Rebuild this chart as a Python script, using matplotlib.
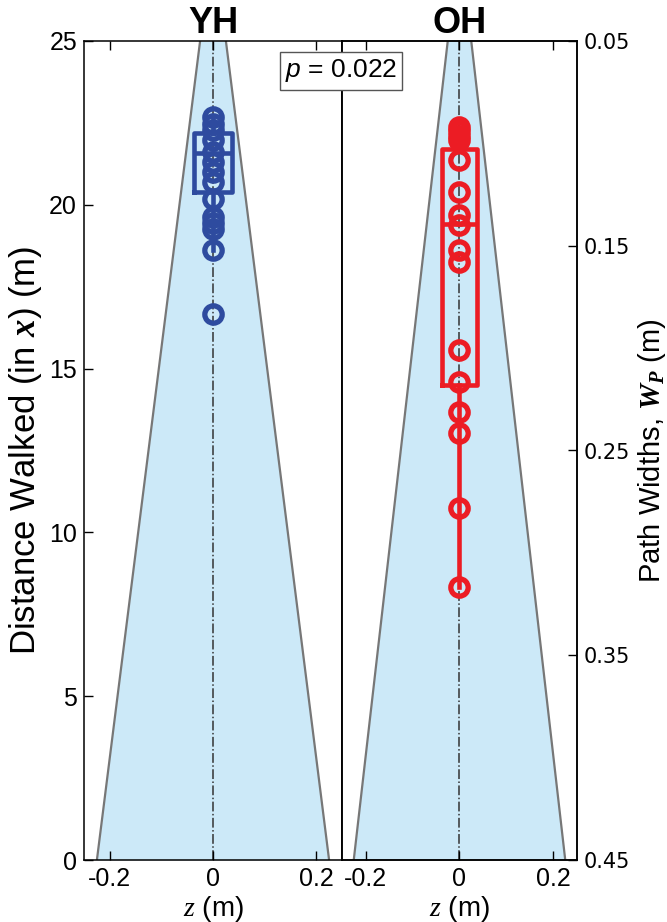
import numpy as np
import matplotlib
matplotlib.use("Agg")
import matplotlib.pyplot as plt

plt.rcParams["font.family"] = ["Liberation Sans", "DejaVu Sans"]
plt.rcParams["mathtext.fontset"] = "custom"
plt.rcParams["mathtext.it"] = "Liberation Serif:italic"
plt.rcParams["mathtext.bf"] = "Liberation Serif:italic:bold"
plt.rcParams["mathtext.sf"] = "Liberation Sans:italic"
plt.rcParams["mathtext.rm"] = "Liberation Sans"

# path geometry: distance along path vs path width
path_dist = [0, 25]
path_width = [0.45, 0.05]

groups = ["YH", "OH"]
p_value = 0.022

# distance walked before stepping off (m)
yh_dist = [22.68, 22.47, 22.28, 21.98, 21.6, 21.3, 21.0, 20.7, 20.18,
           19.63, 19.45, 19.26, 18.62, 16.67]
oh_dist = [22.37, 22.25, 22.1, 21.97, 21.37, 20.39, 19.69, 19.38, 18.62,
           18.25, 15.57, 14.59, 13.68, 13.03, 10.74, 8.33]

# box stats (q1, median, q3, whisker low, whisker high)
yh_box = dict(q1=20.4, med=21.58, q3=22.2, whislo=18.62, whishi=22.68)
oh_box = dict(q1=14.5, med=19.41, q3=21.7, whislo=8.33, whishi=22.37)

colors = ["#2e4b9f", "#ec1c24"]
fill_color = "#cce9f8"

W, H = 667, 922
fig = plt.figure(figsize=(W / 100, H / 100), dpi=100)
bottom = 1 - 860 / H
height = (860 - 41) / H
ax1 = fig.add_axes([84 / W, bottom, (342 - 84) / W, height])
ax2 = fig.add_axes([342 / W, bottom, (577 - 342) / W, height])
tw = ax2.twinx()

d = np.array(path_dist)
half = np.array(path_width) / 2

for ax, name, vals, box, col in zip(
    [ax1, ax2], groups, [yh_dist, oh_dist], [yh_box, oh_box], colors
):
    ax.fill_betweenx(d, -half, half, color=fill_color, lw=0, zorder=0)
    ax.plot(-half, d, color="#777777", lw=1.6, zorder=1)
    ax.plot(half, d, color="#777777", lw=1.6, zorder=1)
    ax.plot([0, 0], [0, 25], color="#333333", lw=1.1, ls="-.", zorder=1)

    st = dict(box, fliers=[])
    ax.bxp([st], positions=[0], widths=0.075, showcaps=False,
           showfliers=False, patch_artist=False,
           boxprops=dict(color=col, lw=3.3),
           medianprops=dict(color=col, lw=3.3),
           whiskerprops=dict(color=col, lw=3.3),
           manage_ticks=False, zorder=3)
    ax.plot(np.zeros(len(vals)), vals, "o", mfc="none", mec=col,
            ms=12.5, mew=3.8, zorder=4)

    ax.set_xlim(-0.25, 0.25)
    ax.set_ylim(0, 25)
    ax.set_xticks([-0.2, 0, 0.2])
    ax.set_xticklabels(["-0.2", "0", "0.2"])
    ax.tick_params(direction="in", top=True, labelsize=18, length=6.5,
                   width=1, pad=5)
    ax.set_xlabel(r"$\mathit{z}$ (m)", fontsize=20, labelpad=2)
    for s in ax.spines.values():
        s.set_linewidth(1.1)
    ax.text(0.0, 1.0, name, transform=ax.get_xaxis_transform(),
            ha="center", va="bottom", fontsize=26, fontweight="bold")

ax1.set_yticks([0, 5, 10, 15, 20, 25])
ax1.set_ylabel(r"Distance Walked (in $\mathbf{x}$) (m)", fontsize=25,
               labelpad=4)
ax1.tick_params(axis="y", right=False)

ax2.tick_params(axis="y", left=False, right=False, labelleft=False)

tw.set_ylim(path_width[0], path_width[1])
tw.set_yticks([0.05, 0.15, 0.25, 0.35, 0.45])
tw.set_yticklabels(["0.05", "0.15", "0.25", "0.35", "0.45"],
                   family="DejaVu Sans")
tw.tick_params(direction="in", labelsize=15, length=6.5, width=1, pad=5)
tw.set_ylabel(r"Path Widths, $\mathbf{W_P}$ (m)", fontsize=21, labelpad=4)
for s in tw.spines.values():
    s.set_linewidth(1.1)

fig.text(341 / W, 1 - 71 / H, r"$\mathsf{p}$ = " + f"{p_value:.3f}",
         ha="center", va="center", fontsize=19,
         bbox=dict(boxstyle="square,pad=0.2", fc="white", ec="#555555",
                   lw=1))

fig.savefig("out.png", dpi=100)
